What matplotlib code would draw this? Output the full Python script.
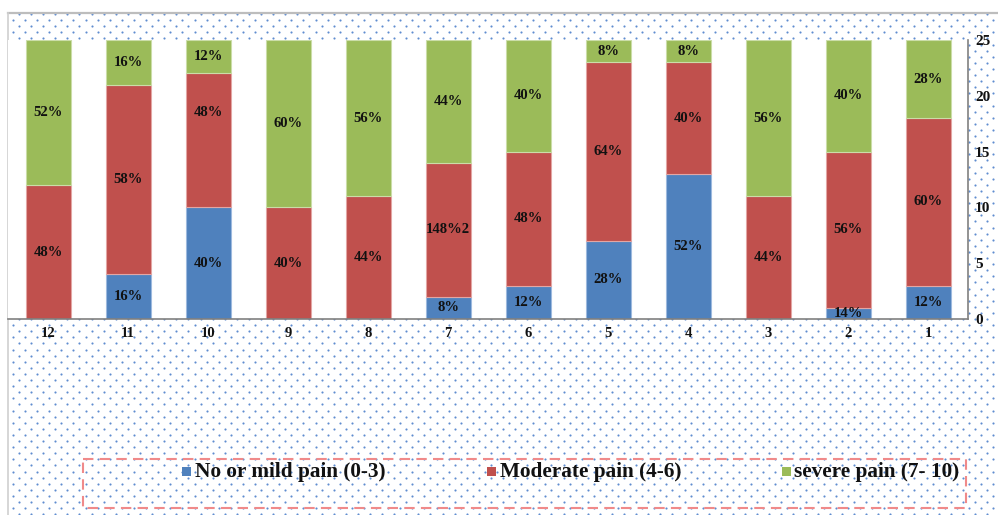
import numpy as np
import matplotlib
matplotlib.use("Agg")
import matplotlib.pyplot as plt
from matplotlib.patches import Rectangle

# ---- data -------------------------------------------------------------
categories = ['12', '11', '10', '9', '8', '7', '6', '5', '4', '3', '2', '1']
mild = [0, 4, 10, 0, 0, 2, 3, 7, 13, 0, 1, 3]
moderate = [12, 17, 12, 10, 11, 12, 12, 16, 10, 11, 14, 15]
severe = [13, 4, 3, 15, 14, 11, 10, 2, 2, 14, 10, 7]

mild_labels = ['', '16%', '40%', '', '', '8%', '12%', '28%', '52%', '', '14%', '12%']
moderate_labels = ['48%', '58%', '48%', '40%', '44%', '148%2', '48%', '64%', '40%', '44%', '56%', '60%']
severe_labels = ['52%', '16%', '12%', '60%', '56%', '44%', '40%', '8%', '8%', '56%', '40%', '28%']

series_names = ['No or mild pain (0-3)', 'Moderate pain (4-6)', 'severe pain (7- 10)']
y_ticks = [0, 5, 10, 15, 20, 25]

# ---- style ------------------------------------------------------------
C_BLUE, C_RED, C_GREEN = '#4F81BD', '#C0504D', '#9BBB59'
EDGE = {C_BLUE: '#9DB9DE', C_RED: '#E3A6A4', C_GREEN: '#CBDDA8'}
DOT = '#5F8DD0'
SERIF = 'Liberation Serif'

W, H = 998, 515
fig = plt.figure(figsize=(W / 100, H / 100), dpi=100)
fig.patch.set_facecolor('white')

# pixel-space overlay for the dotted backdrop, frame and legend
bg = fig.add_axes([0, 0, 1, 1], zorder=0)
bg.set_xlim(0, W)
bg.set_ylim(H, 0)
bg.axis('off')

xs, ys = [], []
for k, yy in enumerate(np.arange(14, H, 6.1)):
    start = 19 if k % 2 == 0 else 13
    for xx in np.arange(start, W, 12.1):
        xs.append(xx)
        ys.append(yy)
bg.scatter(xs, ys, s=2.4, c=DOT, marker='o', linewidths=0)

bg.plot([8, W], [13, 13], color='#BDBDBD', lw=1.6)
bg.plot([8, 8], [13, H], color='#D0D0D0', lw=1.2)

# ---- main chart -------------------------------------------------------
ax = fig.add_axes([8 / W, 1 - 319 / H, (968 - 8) / W, (319 - 40) / H], zorder=1)
ax.set_facecolor('white')

x = np.arange(len(categories))
bw = 0.5625
mild_a = np.array(mild, dtype=float)
mod_a = np.array(moderate, dtype=float)
sev_a = np.array(severe, dtype=float)

ax.bar(x, mild_a, bw, color=C_BLUE, edgecolor=EDGE[C_BLUE], linewidth=0.8)
ax.bar(x, mod_a, bw, bottom=mild_a, color=C_RED, edgecolor=EDGE[C_RED], linewidth=0.8)
ax.bar(x, sev_a, bw, bottom=mild_a + mod_a, color=C_GREEN, edgecolor=EDGE[C_GREEN], linewidth=0.8)

# segment labels, centred in each segment (one label sits higher in its bar)
label_lift = {(2, 1): 2.5}
lab_font = dict(family=SERIF, fontweight='bold', fontsize=10.5, color='#111111',
                ha='center', va='center')
for s_idx, (vals, bottoms, labels) in enumerate([
        (mild_a, np.zeros_like(mild_a), mild_labels),
        (mod_a, mild_a, moderate_labels),
        (sev_a, mild_a + mod_a, severe_labels)]):
    for i in range(len(categories)):
        if labels[i]:
            yc = bottoms[i] + vals[i] / 2 + label_lift.get((i, s_idx), 0)
            ax.text(x[i], yc, labels[i], **lab_font)

ax.set_xlim(-0.5, len(categories) - 0.5)
ax.set_ylim(0, 25)
ax.set_xticks(x)
ax.set_xticklabels(categories, family=SERIF, fontweight='bold', fontsize=10.5)
ax.yaxis.tick_right()
ax.set_yticks(y_ticks)
ax.set_yticklabels([str(t) for t in y_ticks], family=SERIF, fontweight='bold', fontsize=11)
ax.tick_params(axis='both', length=0, colors='#111111')
ax.tick_params(axis='x', pad=6)
ax.tick_params(axis='y', pad=5)
for side in ['top', 'left']:
    ax.spines[side].set_visible(False)
for side in ['right', 'bottom']:
    ax.spines[side].set_color('#808080')
    ax.spines[side].set_linewidth(1.2)

# ---- legend -----------------------------------------------------------
bg.add_patch(Rectangle((83, 459), 966 - 83, 508 - 459, fill=False,
                       edgecolor='#F08A8A', lw=1.5, linestyle=(0, (5, 3)), zorder=3))
leg_items = [(187, C_BLUE), (492, C_RED), (786.5, C_GREEN)]
for (cx, col), name in zip(leg_items, series_names):
    bg.add_patch(Rectangle((cx - 4.5, 467), 9, 9, facecolor=col, edgecolor='none', zorder=3))
    bg.text(cx + 8, 472.5, name, family=SERIF, fontweight='bold', fontsize=15.3,
            ha='left', va='center', color='#111111', zorder=3)

fig.savefig('out.png', dpi=100, facecolor='white')
